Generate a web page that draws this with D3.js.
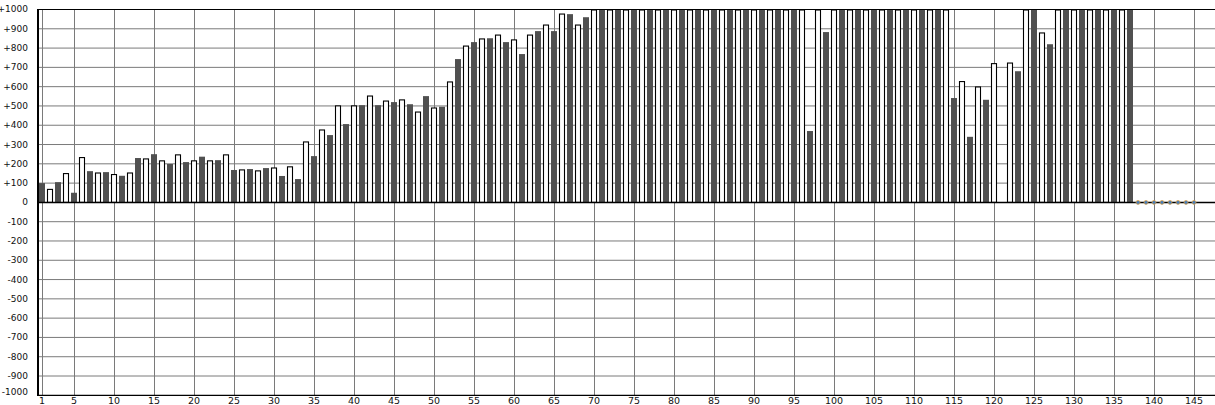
<!DOCTYPE html>
<html><head><meta charset="utf-8">
<script src="https://cdn.jsdelivr.net/npm/d3@7"></script>
<style>html,body{margin:0;padding:0;background:#fff;overflow:hidden;} svg{display:block;font-family:"DejaVu Sans",Verdana,sans-serif;}</style>
</head><body><svg id="c" width="1215" height="405"></svg>
<script>
// categories 1..145
const categories = d3.range(1, 146);
// bar values (null = no bar)
const values = [
  100, 70, 105, 152, 50, 235, 162, 155, 157, 147,
  138, 155, 230, 228, 250, 218, 199, 249, 209, 218,
  237, 218, 219, 249, 168, 171, 173, 166, 178, 181,
  137, 187, 121, 316, 240, 378, 349, 503, 406, 503,
  504, 554, 504, 528, 520, 534, 509, 471, 551, 492,
  496, 627, 743, 813, 831, 850, 851, 870, 831, 845,
  769, 870, 888, 922, 888, 979, 976, 922, 960, 1000,
  1000, 1000, 1000, 1000, 1000, 1000, 1000, 1000, 1000, 1000,
  1000, 1000, 1000, 1000, 1000, 1000, 1000, 1000, 1000, 1000,
  1000, 1000, 1000, 1000, 1000, 1000, 370, 1000, 883, 1000,
  1000, 1000, 1000, 1000, 1000, 1000, 1000, 1000, 1000, 1000,
  1000, 1000, 1000, 1000, 541, 629, 340, 601, 532, 722,
  null, 725, 680, 1000, 1000, 881, 820, 1000, 1000, 1000,
  1000, 1000, 1000, 1000, 1000, 1000, 1000, 0, 0, 0,
  0, 0, 0, 0, 0
];
const xTickValues = [1, 5, 10, 15, 20, 25, 30, 35, 40, 45, 50, 55, 60, 65, 70, 75, 80, 85, 90, 95, 100, 105, 110, 115, 120, 125, 130, 135, 140, 145];
const yTickValues = [-1000, -900, -800, -700, -600, -500, -400, -300, -200, -100, 0, 100, 200, 300, 400, 500, 600, 700, 800, 900, 1000];

const svg = d3.select("#c");
const plotLeft = 37, plotRight = 1215, plotTop = 9.5, plotBottom = 395.3;
const x = d3.scaleLinear().domain([1, 145]).range([42, 1194]);
const y = d3.scaleLinear().domain([-1000, 1000]).range([plotBottom, plotTop]);

svg.append("rect").attr("width", 1215).attr("height", 405).attr("fill", "#fff");

// grid
const grid = svg.append("g");
grid.selectAll("line.h").data(yTickValues.filter(v => v !== 0 && Math.abs(v) !== 1000))
  .join("line").attr("class", "h")
  .attr("x1", plotLeft).attr("x2", plotRight)
  .attr("y1", d => y(d)).attr("y2", d => y(d))
  .attr("stroke", "#7a7a7a").attr("stroke-width", 1);
grid.selectAll("line.v").data(xTickValues)
  .join("line").attr("class", "v")
  .attr("x1", d => x(d) + 0.5).attr("x2", d => x(d) + 0.5)
  .attr("y1", plotTop).attr("y2", plotBottom)
  .attr("stroke", "#7a7a7a").attr("stroke-width", 1);

// bars
svg.append("clipPath").attr("id", "clip").append("rect")
  .attr("x", plotLeft).attr("y", plotTop - 1).attr("width", plotRight - plotLeft).attr("height", plotBottom - plotTop + 1);
const data = categories.map((c, i) => ({c, v: values[i], dark: (c % 2 === 1)}));
const bars = svg.append("g").attr("clip-path", "url(#clip)");
bars.selectAll("rect.d").data(data.filter(d => d.v != null && d.v !== 0 && d.dark))
  .join("rect").attr("class", "d")
  .attr("x", d => x(d.c) - 3).attr("width", 6)
  .attr("y", d => y(d.v)).attr("height", d => y(0) - y(d.v))
  .attr("fill", "#505050");
bars.selectAll("rect.w").data(data.filter(d => d.v != null && d.v !== 0 && !d.dark))
  .join("rect").attr("class", "w")
  .attr("x", d => x(d.c) - 2.5).attr("width", 5)
  .attr("y", d => y(d.v) + 0.5).attr("height", d => y(0) - y(d.v) - 0.5)
  .attr("fill", "#fff").attr("stroke", "#000").attr("stroke-width", 1.1);

// frame
svg.append("line").attr("x1", plotLeft).attr("x2", plotRight).attr("y1", plotTop).attr("y2", plotTop)
  .attr("stroke", "#000").attr("stroke-width", 1.2);
svg.append("line").attr("x1", plotLeft).attr("x2", plotRight).attr("y1", plotBottom).attr("y2", plotBottom)
  .attr("stroke", "#000").attr("stroke-width", 1.2);
svg.append("line").attr("x1", plotLeft).attr("x2", plotRight).attr("y1", y(0)).attr("y2", y(0))
  .attr("stroke", "#000").attr("stroke-width", 1.5);
svg.append("line").attr("x1", plotLeft + 1).attr("x2", plotLeft + 1).attr("y1", plotTop - 0.5).attr("y2", plotBottom + 0.5)
  .attr("stroke", "#000").attr("stroke-width", 2);

// zero markers
svg.append("g").selectAll("circle").data(data.filter(d => d.v === 0))
  .join("circle").attr("cx", d => x(d.c)).attr("cy", y(0)).attr("r", 2)
  .attr("fill", "#4a7db5").attr("stroke", "#e3a040").attr("stroke-width", 0.7);

// y labels
const fmt = v => v > 0 ? "+" + v : String(v);
svg.append("g").selectAll("text").data(yTickValues).join("text")
  .attr("x", 28).attr("y", d => y(d))
  .attr("dy", d => d === -1000 ? "-0.05em" : "0.33em")
  .attr("text-anchor", "end")
  .attr("font-size", 9).attr("fill", "#111")
  .text(fmt);

// x labels
svg.append("g").selectAll("text").data(xTickValues).join("text")
  .attr("x", d => x(d)).attr("y", 404)
  .attr("text-anchor", "middle")
  .attr("font-size", 9.5).attr("fill", "#111")
  .text(d => d);
</script></body></html>
